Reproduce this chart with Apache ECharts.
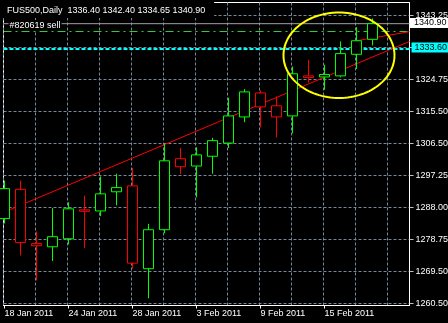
<!DOCTYPE html>
<html><head><meta charset="utf-8">
<script src="https://cdn.jsdelivr.net/npm/echarts@6/dist/echarts.min.js"></script>
<style>html,body{margin:0;padding:0;background:#000}#c{width:448px;height:323px}</style>
</head><body><div id="c"></div>
<script>
// ---- data ----
const symbol = 'FUS500';
const period = 'Daily';
const barDates = ['2011-01-18','2011-01-19','2011-01-20','2011-01-21','2011-01-24','2011-01-25','2011-01-26','2011-01-27','2011-01-28','2011-01-31','2011-02-01','2011-02-02','2011-02-03','2011-02-04','2011-02-07','2011-02-08','2011-02-09','2011-02-10','2011-02-11','2011-02-14','2011-02-15','2011-02-16','2011-02-17','2011-02-18'];
const opens  = [1284.9,1293.3,1277.7,1276.8,1279.1,1287.4,1287.1,1292.6,1294.3,1270.5,1281.7,1302.1,1300.0,1302.8,1306.6,1314.1,1321.0,1317.3,1314.4,1325.9,1325.6,1325.9,1332.1,1336.40];
const highs  = [1295.8,1295.8,1281.2,1287.9,1289.6,1291.5,1297.0,1297.8,1299.4,1283.4,1306.4,1305.2,1305.4,1308.1,1319.6,1322.1,1321.7,1320.0,1328.6,1330.5,1329.1,1335.8,1339.9,1342.40];
const lows   = [1283.5,1274.3,1267.1,1272.7,1277.5,1276.4,1285.6,1288.7,1270.5,1262.0,1280.7,1297.7,1291.0,1297.8,1305.2,1312.6,1311.1,1308.2,1309.4,1324.0,1321.9,1325.5,1327.9,1334.65];
const closes = [1293.5,1278.0,1277.1,1279.7,1287.7,1287.0,1292.0,1293.8,1272.1,1281.7,1301.5,1299.8,1303.2,1307.3,1314.4,1321.3,1317.0,1314.1,1326.5,1325.4,1326.3,1332.3,1336.0,1340.90];

const dateLabels    = ['18 Jan 2011','24 Jan 2011','28 Jan 2011','3 Feb 2011','9 Feb 2011','15 Feb 2011'];
const dateLabelBars = [0,4,8,12,16,20];
const priceLabels   = ['1260.50','1269.50','1278.75','1288.00','1297.25','1306.50','1315.50','1324.75','','1343.25'];

const bidPrice   = 1340.90;
const orderPrice = 1338.65;
const orderText  = '#820619 sell';
const alertPrice = 1333.60;
const trendA = [[0, 1286.8], [25.3125, 1335.8]];
const trendB = [[22, 1336.0], [25.3125, 1338.6]];
const ellipseMark = [20.906, 1331.83, 3.469, 12.28]; // center bar, center price, radius (bars), radius (price)

// ---- scales ----
const pLo = parseFloat(priceLabels[0]);
const pHi = parseFloat(priceLabels[priceLabels.length - 1]);
const nSteps = priceLabels.length - 1;
const step = (pHi - pLo) / nSteps;
const idxMin = -2 / 32, idxMax = nSteps + 13 / 32;
const yMin = pLo + idxMin * step, yMax = pLo + idxMax * step;
const xMin = -1 / 16, xMax = 25.3125;
const priceIdx = priceLabels.map((_, i) => i);

const FONT = 'Liberation Sans';
const ohlc = opens.map((o, i) => [i, o, closes[i], lows[i], highs[i]]);
const last = ohlc.length - 1;
const header = symbol + ',' + period + '  ' + [opens[last], highs[last], lows[last], closes[last]].map(v => v.toFixed(2)).join(' ');

const isInt = v => Math.abs(v - Math.round(v)) < 1e-6;

const chart = echarts.init(document.getElementById('c'), null, {renderer: 'canvas'});
const hline = (price, style) => ({
  type: 'line', xAxisIndex: 0, yAxisIndex: 0, data: [[xMin, price], [xMax, price]],
  symbol: 'none', showSymbol: false, silent: true, z: 1, lineStyle: style, animation: false
});

chart.setOption({
  backgroundColor: '#000',
  animation: false,
  grid: {left: 3.5, top: 2.5, right: 38.5, bottom: 17.5, show: true, borderColor: '#fff', borderWidth: 1,
         backgroundColor: 'transparent', containLabel: false, outerBoundsMode: 'none'},
  xAxis: [
    {type: 'value', min: xMin, max: xMax, interval: 2,
     axisLine: {show: false, onZero: false}, axisTick: {show: false}, axisLabel: {show: false},
     splitLine: {show: true, lineStyle: {color: '#778899', width: 1, type: [3, 2]}}},
    {type: 'value', min: xMin, max: xMax, interval: 4, position: 'bottom',
     axisLine: {show: true, onZero: false, lineStyle: {color: '#fff', width: 1}},
     axisTick: {show: true, length: 3, lineStyle: {color: '#fff'}, customValues: dateLabelBars},
     axisLabel: {show: true, customValues: dateLabelBars, color: '#fff', fontSize: 9, fontFamily: FONT,
                 align: 'left', margin: 4,
                 formatter: v => { if (!isInt(v)) return ''; const k = dateLabelBars.indexOf(Math.round(v)); return k >= 0 ? dateLabels[k] : ''; }},
     splitLine: {show: false}}
  ],
  yAxis: [
    {type: 'value', min: yMin, max: yMax, show: false,
     axisLine: {show: false, onZero: false}, splitLine: {show: false}},
    {type: 'value', min: idxMin, max: idxMax, interval: 1, position: 'right',
     axisLine: {show: true, onZero: false, lineStyle: {color: '#fff', width: 1}},
     axisTick: {show: true, length: 4, lineStyle: {color: '#c0c0c0'}, customValues: priceIdx},
     axisLabel: {show: true, customValues: priceIdx, color: '#fff', fontSize: 9, fontFamily: FONT,
                 align: 'left', margin: 6,
                 formatter: v => isInt(v) && priceLabels[Math.round(v)] !== undefined ? priceLabels[Math.round(v)] : ''},
     splitLine: {show: true, lineStyle: {color: '#778899', width: 1, type: [3, 2]}}}
  ],
  graphic: [{
    type: 'text', left: 3, top: 2, z: 100,
    style: {text: header, fill: '#fff', font: '9px "' + FONT + '"', backgroundColor: '#000', padding: [4, 9, 3, 4]}
  }],
  series: [
    hline(bidPrice, {color: '#a0a0a0', width: 1}),
    hline(orderPrice, {color: '#32cd32', width: 1, type: [8, 4, 2, 4]}),
    hline(alertPrice, {color: '#00ffff', width: 2, type: [4, 2]}),
    {type: 'line', data: trendA, symbol: 'none', silent: true, z: 1, lineStyle: {color: '#ff0000', width: 1}},
    {type: 'line', data: trendB, symbol: 'none', silent: true, z: 1, lineStyle: {color: '#ff0000', width: 1}},
    {type: 'candlestick', xAxisIndex: 0, yAxisIndex: 0, data: ohlc, barWidth: 10, z: 3, silent: true,
     itemStyle: {color: '#000', color0: '#000', borderColor: '#00ff00', borderColor0: '#ff0000', borderWidth: 1}},
    {type: 'custom', xAxisIndex: 0, yAxisIndex: 0, z: 4, silent: true, clip: false, data: [ellipseMark],
     renderItem: (params, api) => {
       const c = api.coord([api.value(0), api.value(1)]);
       const s = api.size([api.value(2), api.value(3)]);
       const pts = [];
       for (let k = 0; k < 120; k++) { const t = k / 120 * 2 * Math.PI; pts.push([c[0] + s[0] * Math.cos(t), c[1] + s[1] * Math.sin(t)]); }
       return {type: 'polygon', shape: {points: pts}, style: {fill: 'none', stroke: '#ffff00', lineWidth: 2}};
     }},
    {type: 'custom', xAxisIndex: 0, yAxisIndex: 0, z: 5, silent: true, clip: false, data: [[0, bidPrice]],
     renderItem: (params, api) => {
       const font = '9px "' + FONT + '"';
       const b = api.coord([xMax, bidPrice]);
       const a = api.coord([xMax, alertPrice]);
       const o = api.coord([xMin, orderPrice]);
       return {type: 'group', children: [
         {type: 'text', x: b[0] + 0.5, y: b[1] - 0.7, style: {text: bidPrice.toFixed(2), fill: '#000', font, backgroundColor: '#fff', padding: [1, 2, 0, 4], verticalAlign: 'middle', align: 'left'}},
         {type: 'text', x: a[0] + 2, y: a[1] - 1.5, style: {text: alertPrice.toFixed(2), fill: '#000', font, backgroundColor: '#00ffff', padding: [1, 2, 0, 3], verticalAlign: 'middle', align: 'left'}},
         {type: 'text', x: o[0] + 5, y: o[1] - 6, style: {text: orderText, fill: '#fff', font, backgroundColor: '#000', padding: [1, 1, 1, 1], verticalAlign: 'middle', align: 'left'}}
       ]};
     }}
  ]
});
</script></body></html>
